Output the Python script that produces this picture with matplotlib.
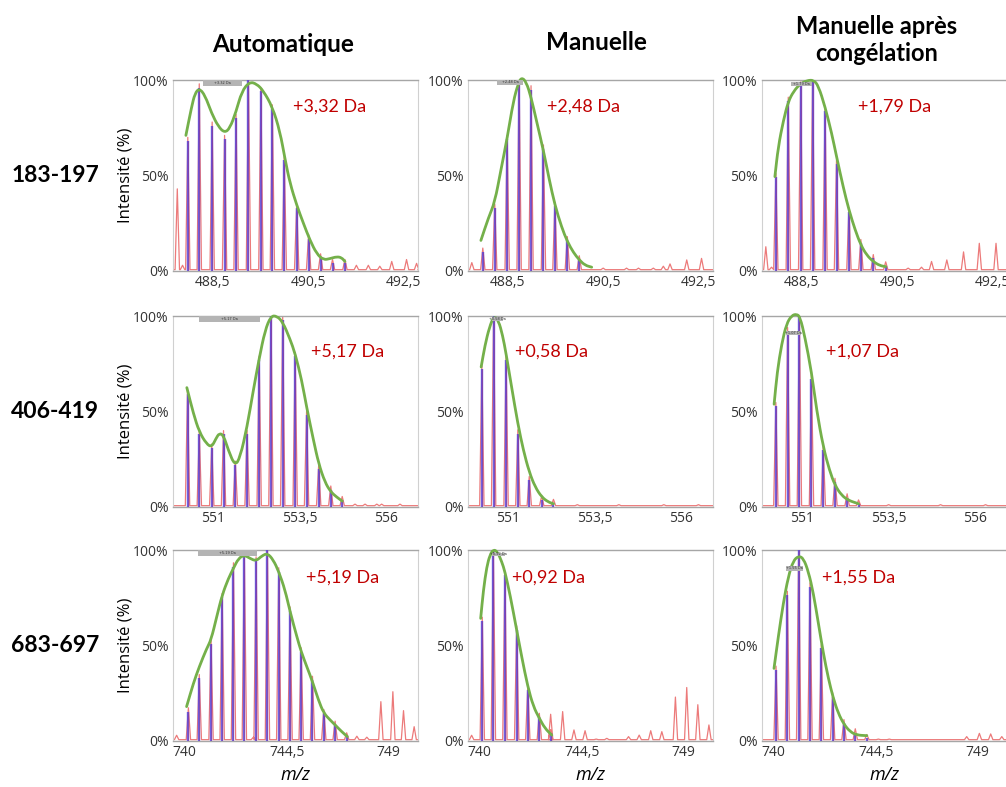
import matplotlib
matplotlib.use("Agg")
import matplotlib.pyplot as plt
from matplotlib.patches import Rectangle, PathPatch
from matplotlib.path import Path

# m/z windows for each peptide row
xlim_183 = (487.67, 492.80)
xlim_406 = (549.84, 556.92)
xlim_683 = (739.48, 750.30)
ticks_183 = [488.5, 490.5, 492.5]
ticks_406 = [551, 553.5, 556]
ticks_683 = [740, 744.5, 749]

col_titles = ["Automatique", "Manuelle", "Manuelle après\ncongélation"]
row_titles = ["183-197", "406-419", "683-697"]

# ---- 183-197 ----
a183_mz = [487.98, 488.22, 488.49, 488.75, 488.99, 489.25, 489.51, 489.75, 490.00, 490.26, 490.51, 490.76, 491.01, 491.27]
a183_int = [68, 96, 76, 69, 80, 100, 94, 85, 58, 33, 17, 7, 4, 4]
a183_env_mz = [487.94, 488.06, 488.13, 488.22, 488.34, 488.48, 488.62, 488.75, 488.86, 488.99, 489.11, 489.27, 489.42,
               489.56, 489.75, 489.91, 490.02, 490.12, 490.26, 490.40, 490.54, 490.68, 490.82, 490.96, 491.10, 491.20, 491.27]
a183_env_int = [71, 86, 93, 95.6, 92, 82.5, 75.6, 72.4, 74.7, 83.4, 94, 99, 98, 94.4, 86, 73, 58, 46, 34.5, 25, 16, 9,
                5.8, 6.5, 7.5, 7, 5]
a183_noise_mz = [487.76, 487.87, 491.51, 491.76, 492.00, 492.25, 492.56, 492.77]
a183_noise_int = [43, 3, 3, 3, 2.5, 5, 6, 4]

m183_mz = [487.98, 488.23, 488.49, 488.74, 488.99, 489.25, 489.49, 489.75, 490.00]
m183_int = [10, 33, 69, 100, 95, 64, 34, 16, 6]
m183_env_mz = [487.94, 488.10, 488.23, 488.36, 488.49, 488.62, 488.72, 488.79, 488.89, 488.99, 489.11, 489.25, 489.37,
               489.49, 489.63, 489.75, 489.88, 490.00, 490.12, 490.26]
m183_env_int = [16, 28, 36, 53, 69.5, 89, 98, 101.4, 99, 91, 78, 63, 48, 34.5, 23, 15.4, 9.6, 5.8, 3, 2]
m183_noise_mz = [487.75, 490.50, 490.99, 491.24, 491.55, 491.76, 491.90, 492.25, 492.56]
m183_noise_int = [4.4, 1.5, 1.5, 1.5, 1.5, 2.5, 3.7, 5.8, 6.6]

c183_mz = [487.96, 488.22, 488.48, 488.73, 488.99, 489.23, 489.49, 489.74, 490.00, 490.26]
c183_int = [49, 89, 97, 100, 84, 56, 31, 14.5, 6.6, 2.8]
c183_env_mz = [487.94, 488.01, 488.12, 488.22, 488.33, 488.47, 488.61, 488.75, 488.85, 488.99, 489.13, 489.23, 489.37,
               489.49, 489.62, 489.74, 489.86, 490.00, 490.14, 490.26]
c183_env_int = [49.4, 65, 79, 88.7, 94, 98, 99.7, 100, 97, 86, 72, 60, 44, 32, 21.5, 13.6, 8.4, 4.9, 2.8, 2.3]
c183_noise_mz = [487.75, 487.87, 490.73, 491.01, 491.22, 491.54, 491.89, 492.22, 492.57]
c183_noise_int = [12.7, 2, 1.5, 2, 5, 5.8, 10, 14.5, 14.5]

# ---- 406-419 ----
a406_mz = [550.26, 550.60, 550.96, 551.30, 551.64, 551.98, 552.33, 552.67, 553.01, 553.37, 553.70, 554.05, 554.40, 554.73]
a406_int = [59, 38, 31, 38, 22, 38, 77, 100, 98, 79, 48, 20, 9, 3.5]
a406_env_mz = [550.24, 550.43, 550.60, 550.81, 550.96, 551.08, 551.18, 551.30, 551.44, 551.63, 551.78, 551.98, 552.16,
               552.33, 552.50, 552.67, 552.84, 553.01, 553.22, 553.37, 553.56, 553.70, 553.90, 554.05, 554.23, 554.40,
               554.57, 554.73]
a406_env_int = [62.5, 48.9, 39.3, 33, 31.4, 35.8, 38.7, 37.5, 29.7, 21.5, 26, 41.9, 61, 77.7, 92.5, 100, 100, 96.9, 88,
                80.3, 66.3, 52.4, 34.9, 22.7, 13, 7.9, 5.2, 3.1]
a406_noise_mz = [555.10, 555.39, 555.73, 555.87, 556.40]
a406_noise_int = [1.5, 1.5, 1.5, 1.5, 1.5]

m406_mz = [550.24, 550.58, 550.94, 551.28, 551.61, 551.97, 552.31]
m406_int = [72, 100, 77, 38.4, 14, 3.8, 2]
m406_env_mz = [550.22, 550.33, 550.46, 550.59, 550.72, 550.84, 550.94, 551.10, 551.28, 551.44, 551.61, 551.78, 551.97,
               552.16, 552.31]
m406_env_int = [73.3, 84.6, 94.2, 100, 97.7, 89.9, 80.3, 62.8, 43.6, 29.7, 18.3, 10.5, 5.2, 2.6, 1.7]
m406_noise_mz = [553.0, 554.2, 555.5, 556.5]
m406_noise_int = [1.2, 1.2, 1.2, 1.2]

c406_mz = [550.24, 550.58, 550.92, 551.27, 551.61, 551.95, 552.30, 552.63]
c406_int = [52.7, 92, 100, 67, 29.7, 13, 4.9, 1.7]
c406_env_mz = [550.19, 550.28, 550.41, 550.55, 550.70, 550.84, 550.94, 551.08, 551.27, 551.42, 551.61, 551.79, 551.95,
               552.14, 552.34, 552.53, 552.63]
c406_env_int = [53.8, 70.7, 85.5, 96, 100.3, 101, 99.5, 89, 70.7, 50.6, 31.4, 19.2, 11.3, 6.1, 3.5, 2.3, 1.7]
c406_noise_mz = [553.5, 555.0, 556.3]
c406_noise_int = [1.2, 1.2, 1.2]

# ---- 683-697 ----
a683_mz = [740.16, 740.64, 741.16, 741.65, 742.15, 742.63, 743.15, 743.65, 744.15, 744.65, 745.14, 745.64, 746.14,
           746.64, 747.15]
a683_int = [15.4, 32.8, 50.8, 75.2, 91.3, 97.4, 94.4, 100, 88.7, 68.2, 46.8, 31.9, 14.5, 8.4, 2.3]
a683_env_mz = [740.08, 740.38, 740.64, 740.97, 741.16, 741.41, 741.65, 741.93, 742.15, 742.37, 742.63, 742.88, 743.15,
               743.40, 743.65, 743.91, 744.15, 744.43, 744.65, 744.95, 745.14, 745.39, 745.64, 745.90, 746.14, 746.42,
               746.64, 746.93, 747.18]
a683_env_int = [18, 30.2, 38.9, 48.5, 52.9, 65, 76.4, 85.2, 90.4, 95.6, 97.4, 95.6, 94.2, 96.9, 98.3, 94.8, 88.7, 79,
                67.7, 54.6, 46.8, 38.9, 31.1, 21.5, 14.5, 11, 8.4, 4.9, 2.3]
a683_noise_mz = [739.64, 743.03, 747.60, 748.04, 748.66, 749.19, 749.66, 750.13]
a683_noise_int = [3, 2, 2.5, 2, 20.6, 25.8, 15.9, 7.5]

m683_mz = [740.11, 740.60, 741.11, 741.63, 742.12, 742.63, 743.13]
m683_int = [62.8, 100, 87, 58.3, 26.7, 12.5, 4]
m683_env_mz = [740.04, 740.16, 740.31, 740.45, 740.60, 740.78, 740.97, 741.11, 741.34, 741.63, 741.85, 742.12, 742.37,
               742.63, 742.88, 743.18]
m683_env_int = [64.2, 79, 91.3, 97.4, 100.3, 99.1, 93.9, 88.7, 76.4, 58.1, 44.2, 28.4, 18, 11.9, 6.6, 3.1]
m683_noise_mz = [739.64, 743.13, 743.66, 744.16, 744.65, 745.14, 745.61, 746.57, 747.04, 747.55, 748.04, 748.64,
                 749.14, 749.63, 750.12]
m683_noise_int = [3, 14, 15.4, 5.8, 5.4, 1, 1.4, 2.3, 3.1, 5.4, 4.9, 23, 28, 19, 8.4]

c683_mz = [740.10, 740.60, 741.10, 741.60, 742.10, 742.60, 743.10, 743.60, 744.11]
c683_int = [37.2, 76.4, 100, 80.8, 48.5, 23.2, 9.2, 4.4, 1.4]
c683_env_mz = [740.01, 740.20, 740.42, 740.64, 740.86, 741.10, 741.31, 741.53, 741.75, 741.97, 742.19, 742.41, 742.63,
               742.85, 743.10, 743.37, 743.66, 744.11]
c683_env_int = [38, 54.6, 72.1, 86, 94.4, 96.9, 95.6, 88.7, 77.3, 61.6, 45.9, 32.8, 22.3, 14.5, 8.7, 4.9, 3.1, 2.8]
c683_noise_mz = [744.62, 745.10, 748.52, 749.08, 749.58, 750.07]
c683_noise_int = [1, 1, 2.3, 4, 3.7, 2.3]

# mass shift labels and their anchor (m/z, %)
shift_labels = [["+3,32 Da", "+2,48 Da", "+1,79 Da"],
                ["+5,17 Da", "+0,58 Da", "+1,07 Da"],
                ["+5,19 Da", "+0,92 Da", "+1,55 Da"]]
shift_x = [[490.18, 489.32, 489.68],
           [553.83, 551.20, 551.69],
           [745.36, 741.42, 742.13]]
shift_y = [85.9, 81.2, 85.3]

# small grey tags left by the acquisition software (x0, x1, y0, y1)
tags = [[(488.30, 489.11, 97, 100), (488.28, 488.83, 97.4, 100), (488.27, 488.71, 97, 99)],
        [(550.60, 552.35, 97, 100), (550.52, 550.86, 97.5, 99.5), (550.53, 550.96, 90.2, 92.3)],
        [(740.60, 743.18, 97, 100), (740.53, 741.12, 97, 98.5), (740.54, 741.31, 89.2, 91.6)]]
tag_text = [["+3.32 Da", "+2.48 Da", "+1.79 Da"],
            ["+5.17 Da", "+0.58 Da", "+1.07 Da"],
            ["+5.19 Da", "+0.92 Da", "+1.55 Da"]]

panels = [
    [(a183_mz, a183_int, a183_env_mz, a183_env_int, a183_noise_mz, a183_noise_int),
     (m183_mz, m183_int, m183_env_mz, m183_env_int, m183_noise_mz, m183_noise_int),
     (c183_mz, c183_int, c183_env_mz, c183_env_int, c183_noise_mz, c183_noise_int)],
    [(a406_mz, a406_int, a406_env_mz, a406_env_int, a406_noise_mz, a406_noise_int),
     (m406_mz, m406_int, m406_env_mz, m406_env_int, m406_noise_mz, m406_noise_int),
     (c406_mz, c406_int, c406_env_mz, c406_env_int, c406_noise_mz, c406_noise_int)],
    [(a683_mz, a683_int, a683_env_mz, a683_env_int, a683_noise_mz, a683_noise_int),
     (m683_mz, m683_int, m683_env_mz, m683_env_int, m683_noise_mz, m683_noise_int),
     (c683_mz, c683_int, c683_env_mz, c683_env_int, c683_noise_mz, c683_noise_int)],
]
row_xlims = [xlim_183, xlim_406, xlim_683]
row_ticks = [ticks_183, ticks_406, ticks_683]

W, H = 1006, 787
col_left = [173, 468, 762]
row_top = [80, 316, 550]
ax_w, ax_h = 245, 191

GREEN = "#74b04a"
BLUE = "#5646dc"
PINK = "#ec7a7a"
DARKRED = "#c00000"
TICKFONT = "Open Sans"
BOLDFONT = "Lato"


def raw_trace(mz, inten, xlim, half_w, base=0.7):
    # thin profile spectrum: flat baseline with narrow triangular peaks
    xs, ys = [xlim[0]], [base]
    for m, h in sorted(zip(mz, inten)):
        xs += [m - half_w, m, m + half_w]
        ys += [base, h, base]
    xs.append(xlim[1])
    ys.append(base)
    return xs, ys


def smooth_path(xs, ys):
    # quadratic bezier chain using the envelope points as control points
    pts = list(zip(xs, ys))
    verts = [pts[0]]
    codes = [Path.MOVETO]
    mid = lambda a, b: ((a[0] + b[0]) / 2, (a[1] + b[1]) / 2)
    verts.append(mid(pts[0], pts[1]))
    codes.append(Path.LINETO)
    for i in range(1, len(pts) - 1):
        verts += [pts[i], mid(pts[i], pts[i + 1])]
        codes += [Path.CURVE3, Path.CURVE3]
    verts.append(pts[-1])
    codes.append(Path.LINETO)
    return Path(verts, codes)


fig = plt.figure(figsize=(W / 100, H / 100), dpi=100)

for r in range(3):
    xlim = row_xlims[r]
    half_w = 2.2 * (xlim[1] - xlim[0]) / ax_w
    for c in range(3):
        mz, inten, env_mz, env_int, nz_mz, nz_int = panels[r][c]
        ax = fig.add_axes([col_left[c] / W, 1 - (row_top[r] + ax_h) / H, ax_w / W, ax_h / H])
        ax.set_xlim(*xlim)
        ax.set_ylim(0, 100)

        # raw profile (red) under the centroid sticks
        tx, ty = raw_trace(list(nz_mz) + list(mz), list(nz_int) + [h + 2 for h in inten], xlim, half_w)
        ax.plot(tx, ty, color=PINK, lw=0.9, zorder=2)
        ax.vlines(mz, 0, inten, color=BLUE, lw=1.7, alpha=0.85, zorder=3)
        ax.vlines(mz, 0, inten, color="#a0307a", lw=0.6, alpha=0.5, zorder=3)

        # fitted envelope
        ax.add_patch(PathPatch(smooth_path(env_mz, env_int), facecolor="none", edgecolor=GREEN,
                               lw=2.0, capstyle="round", joinstyle="round", zorder=4, clip_on=False))

        x0, x1, y0, y1 = tags[r][c]
        ax.add_patch(Rectangle((x0, y0), x1 - x0, y1 - y0, facecolor="#b4b4b4",
                               edgecolor="none", zorder=5, clip_on=False))
        ax.text((x0 + x1) / 2, (y0 + y1) / 2, tag_text[r][c], fontsize=2.5, color="#333333",
                ha="center", va="center", zorder=6)

        ax.text(shift_x[r][c], shift_y[r], shift_labels[r][c], color=DARKRED, fontsize=13,
                family=BOLDFONT, ha="left", va="center", zorder=6)

        for side in ["top", "bottom"]:
            ax.spines[side].set_color("#a6a6a6")
            ax.spines[side].set_linewidth(1.0)
        for side in ["left", "right"]:
            ax.spines[side].set_color("#d0d0d0")
            ax.spines[side].set_linewidth(0.8)

        ax.set_yticks([0, 50, 100])
        ax.set_yticklabels(["0%", "50%", "100%"])
        ax.set_xticks(row_ticks[r])
        ax.set_xticklabels([("%g" % t).replace(".", ",") for t in row_ticks[r]])
        ax.tick_params(length=0, pad=3, labelsize=10, labelcolor="#333333")
        for lab in ax.get_xticklabels() + ax.get_yticklabels():
            lab.set_family(TICKFONT)

        if r == 2:
            ax.set_xlabel("m/z", fontsize=13, style="italic", family=TICKFONT, labelpad=4)

# column headings
fig.text(283 / W, 1 - 44 / H, col_titles[0], ha="center", va="center", fontsize=17.5,
         fontweight="bold", family=BOLDFONT)
fig.text(596 / W, 1 - 42 / H, col_titles[1], ha="center", va="center", fontsize=17.5,
         fontweight="bold", family=BOLDFONT)
fig.text(877 / W, 1 - 40 / H, col_titles[2], ha="center", va="center", fontsize=17,
         fontweight="bold", family=BOLDFONT, linespacing=1.25)

# peptide labels and y-axis titles
for r in range(3):
    yc = row_top[r] + ax_h / 2
    fig.text(55 / W, 1 - yc / H, row_titles[r], ha="center", va="center", fontsize=16.5,
             fontweight="bold", family=BOLDFONT)
    fig.text(125 / W, 1 - yc / H, "Intensité (%)", ha="center", va="center", fontsize=12,
             rotation=90, family=TICKFONT)

fig.savefig("out.png", dpi=100)
